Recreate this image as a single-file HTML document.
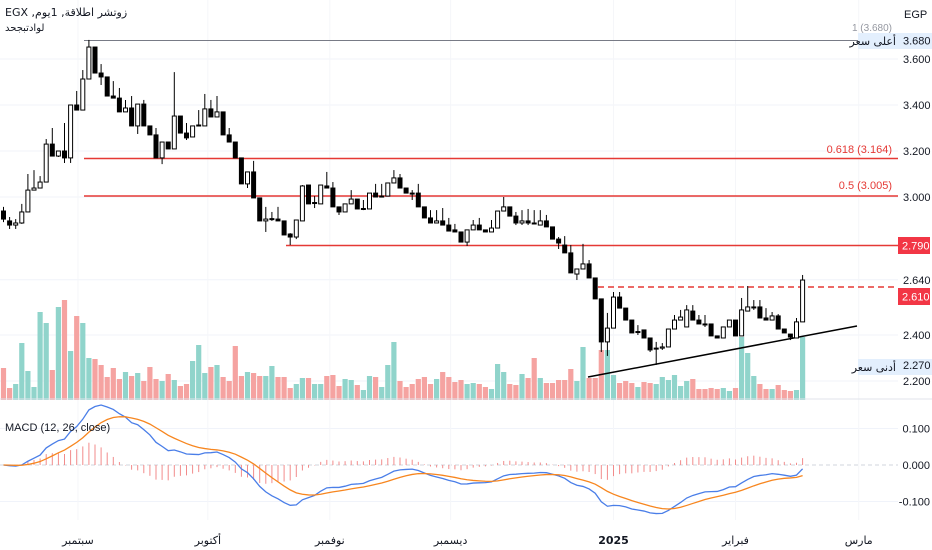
<!DOCTYPE html>
<html><head><meta charset="utf-8">
<style>
html,body{margin:0;padding:0;background:#fff;}
svg{display:block;font-family:"Liberation Sans","DejaVu Sans",sans-serif;}
.ax{font-size:11px;fill:#131722;}
</style></head>
<body>
<svg id="chart" width="932" height="550" viewBox="0 0 932 550" xmlns="http://www.w3.org/2000/svg">
  <rect x="0" y="0" width="932" height="550" fill="#fff"/>
  <g id="grid"></g>
  <g id="volume"></g>
  <g id="levels">
    <line x1="84" y1="40.5" x2="858" y2="40.5" stroke="#787b86" stroke-width="1"/>
    <text x="892" y="31" text-anchor="end" font-size="10" fill="#9598a1">1 (3.680)</text>
    <line x1="84" y1="158.5" x2="898" y2="158.5" stroke="#e53935" stroke-width="1.5"/>
    <text x="892" y="153" text-anchor="end" font-size="11" fill="#e53935">0.618 (3.164)</text>
    <line x1="84" y1="196" x2="898" y2="196" stroke="#e53935" stroke-width="1.5"/>
    <text x="892" y="189" text-anchor="end" font-size="11" fill="#e53935">0.5 (3.005)</text>
    <line x1="286" y1="245.5" x2="898" y2="245.5" stroke="#e53935" stroke-width="1.5"/>
    <line x1="598" y1="287" x2="898" y2="287" stroke="#e53935" stroke-width="1.5" stroke-dasharray="6,4"/>
    <line x1="588" y1="377" x2="857" y2="326" stroke="#000" stroke-width="1.5"/>
  </g>
  <g id="candles"></g>
  <line x1="0" y1="399" x2="932" y2="399" stroke="#e0e3eb" stroke-width="1"/>
  <g id="macd"></g>
  <text x="5" y="431" font-size="11" fill="#131722">MACD (12, 26, close)</text>
  <text x="5" y="16" font-size="11" fill="#131722" font-family="DejaVu Sans, sans-serif">EGX ,زوتشر اطلاقة, 1يوم</text>
  <text x="5" y="31" font-size="10" fill="#131722" font-family="DejaVu Sans, sans-serif">لوادتبجحد</text>
  <g id="axis">
    <text x="904" y="18" class="ax">EGP</text>
    <rect x="858" y="33" width="74" height="16" fill="#e3effd"/>
    <text x="896" y="45" text-anchor="end" font-size="11" fill="#131722" font-family="DejaVu Sans, sans-serif">أعلى سعر</text>
    <rect x="858" y="359" width="74" height="16" fill="#e3effd"/>
    <text x="896" y="371" text-anchor="end" font-size="11" fill="#131722" font-family="DejaVu Sans, sans-serif">أدنى سعر</text>
    <rect x="898" y="237" width="32" height="17" fill="#f23645"/>
    <text x="902" y="249.5" font-size="11" fill="#fff">2.790</text>
    <rect x="898" y="288" width="32" height="17" fill="#f23645"/>
    <text x="902" y="300.5" font-size="11" fill="#fff">2.610</text>
  </g>
  <g id="xaxis"></g>
</svg>
<script>
const opens=[2.939,2.896,2.878,2.887,2.935,3.030,3.039,3.065,3.230,3.178,
3.200,3.170,3.400,3.378,3.513,3.652,3.539,3.522,3.439,3.430,
3.370,3.387,3.309,3.404,3.309,3.270,3.170,3.239,3.209,3.352,
3.278,3.261,3.309,3.309,3.383,3.348,3.370,3.270,3.239,3.170,
3.057,3.109,2.996,2.896,2.904,2.904,2.896,2.839,2.826,2.896,
3.052,2.974,2.970,3.048,3.039,2.957,2.935,2.970,2.991,2.948,
2.948,3.017,3.000,3.004,3.061,3.083,3.039,3.017,3.017,2.957,
2.909,2.887,2.896,2.878,2.857,2.848,2.804,2.857,2.878,2.857,
2.848,2.865,2.939,2.957,2.917,2.887,2.896,2.887,2.878,2.896,
2.870,2.817,2.791,2.757,2.665,2.687,2.709,2.648,2.557,2.370,
2.430,2.565,2.517,2.465,2.413,2.422,2.387,2.343,2.343,2.348,
2.426,2.465,2.435,2.504,2.465,2.448,2.448,2.396,2.387,2.435,
2.465,2.396,2.504,2.522,2.522,2.474,2.465,2.483,2.426,2.404,
2.387,2.457];
const closes=[2.904,2.878,2.887,2.935,3.030,3.039,3.065,3.230,3.178,3.200,
3.170,3.400,3.378,3.513,3.652,3.539,3.522,3.439,3.430,3.370,
3.387,3.309,3.404,3.309,3.270,3.170,3.239,3.209,3.352,3.278,
3.257,3.309,3.313,3.383,3.348,3.370,3.270,3.239,3.170,3.057,
3.109,2.996,2.896,2.904,2.906,2.896,2.835,2.826,2.900,3.048,
2.970,2.976,3.052,3.039,2.957,2.935,2.970,2.991,2.948,2.950,
3.017,3.000,3.004,3.061,3.083,3.039,3.017,3.015,2.957,2.909,
2.887,2.896,2.878,2.852,2.848,2.804,2.857,2.878,2.857,2.848,
2.865,2.939,2.957,2.917,2.887,2.896,2.887,2.883,2.896,2.870,
2.817,2.800,2.757,2.670,2.687,2.709,2.648,2.557,2.370,2.430,
2.565,2.517,2.465,2.409,2.415,2.387,2.335,2.343,2.348,2.426,
2.465,2.478,2.509,2.465,2.448,2.447,2.396,2.387,2.435,2.465,
2.396,2.509,2.522,2.522,2.474,2.465,2.483,2.426,2.409,2.391,
2.457,2.639];
const highs=[2.957,2.913,2.904,2.970,3.100,3.117,3.091,3.252,3.300,3.200,
3.322,3.400,3.461,3.552,3.683,3.652,3.578,3.522,3.504,3.474,
3.422,3.439,3.404,3.422,3.309,3.300,3.239,3.239,3.543,3.352,
3.322,3.309,3.378,3.448,3.422,3.439,3.370,3.300,3.239,3.170,
3.109,3.157,2.996,2.957,2.935,2.957,2.896,2.843,2.900,3.052,
3.052,3.004,3.052,3.109,3.065,2.957,2.970,3.030,2.991,2.987,
3.017,3.057,3.057,3.061,3.117,3.100,3.039,3.030,3.057,2.957,
2.943,2.943,2.952,2.909,2.883,2.848,2.857,2.900,2.909,2.857,
2.900,2.939,3.000,2.957,2.935,2.943,2.948,2.943,2.943,2.922,
2.870,2.826,2.830,2.791,2.687,2.796,2.726,2.648,2.557,2.496,
2.587,2.587,2.517,2.465,2.443,2.422,2.387,2.370,2.365,2.426,
2.487,2.509,2.530,2.530,2.487,2.487,2.448,2.396,2.435,2.465,
2.465,2.561,2.613,2.552,2.552,2.517,2.500,2.491,2.426,2.404,
2.474,2.661];
const lows=[2.891,2.861,2.861,2.883,2.935,3.030,3.039,3.065,3.178,3.174,
3.148,3.148,3.378,3.378,3.513,3.539,3.487,3.439,3.430,3.370,
3.370,3.309,3.274,3.309,3.270,3.170,3.143,3.209,3.209,3.278,
3.248,3.261,3.309,3.309,3.348,3.348,3.270,3.239,3.170,3.057,
3.039,2.996,2.896,2.848,2.896,2.896,2.835,2.791,2.817,2.896,
2.970,2.952,2.970,3.039,2.957,2.922,2.935,2.970,2.948,2.943,
2.948,3.000,3.000,3.004,3.061,3.039,3.017,2.987,2.957,2.909,
2.887,2.887,2.878,2.852,2.848,2.804,2.787,2.857,2.857,2.848,
2.848,2.865,2.939,2.917,2.878,2.878,2.878,2.883,2.878,2.870,
2.817,2.774,2.757,2.670,2.639,2.687,2.648,2.557,2.326,2.309,
2.430,2.517,2.465,2.409,2.400,2.387,2.326,2.270,2.335,2.348,
2.426,2.465,2.435,2.465,2.448,2.435,2.396,2.387,2.387,2.435,
2.396,2.396,2.504,2.509,2.474,2.465,2.465,2.426,2.409,2.378,
2.387,2.457];
const volumes=[32,12,16,57,29,13,88,77,30,93,
100,49,84,77,42,41,35,23,32,21,
28,24,27,19,33,21,19,26,20,14,
16,39,55,27,33,35,23,19,54,24,
28,27,24,24,34,23,23,12,16,22,
22,16,16,24,25,14,21,20,15,10,
24,23,13,35,58,19,13,16,21,23,
16,21,28,23,18,20,16,17,16,13,
11,36,28,16,15,26,22,42,22,17,
17,20,20,31,19,53,22,22,50,50,
25,17,19,17,13,18,17,16,23,20,
25,14,19,21,11,11,12,11,12,9,
12,63,47,24,16,11,11,15,10,9,
10,63];
const priceTicks=[3.6,3.4,3.2,3.0,2.64,2.4,2.2];
const priceTickLabels=["3.600","3.400","3.200","3.000","2.640","2.400","2.200"];
const extraPriceLabels=[3.68,2.27];
const extraPriceLabelText=["3.680","2.270"];
const macdTicks=[0.1,0,-0.1];
const macdTickLabels=["0.100","0.000","-0.100"];
const monthPos=[12.2,33.5,53.5,73.3,100,120,140.2];
const monthLabels=["سبتمبر","أكتوبر","نوفمبر","ديسمبر","2025","فبراير","مارس"];

const NS="http://www.w3.org/2000/svg";
const xOf=i=>3.5+6.1*i;
const yP=p=>59+(3.6-p)*230;
const yV=v=>400-v;
const yM=v=>465-v*365;
function mk(tag,attrs,parent){const e=document.createElementNS(NS,tag);for(const k in attrs)e.setAttribute(k,attrs[k]);parent.appendChild(e);return e;}

const grid=document.getElementById('grid');
priceTicks.forEach(p=>{
  const l=mk('line',{x1:0,x2:898,y1:yP(p),y2:yP(p),stroke:'#f0f3fa','stroke-width':1},grid);
  
  
});
macdTicks.forEach(v=>{
  const l=mk('line',{x1:0,x2:898,y1:yM(v),y2:yM(v),stroke:v===0?'#d1d4dc':'#f0f3fa','stroke-width':1,'stroke-dasharray':v===0?'4,3':'none'},grid);
  
  
});
monthPos.forEach(m=>{
  const l=mk('line',{x1:xOf(m),x2:xOf(m),y1:0,y2:520,stroke:'#f5f6f9','stroke-width':1},grid);
  
  
});

const vol=document.getElementById('volume');
volumes.forEach((v,i)=>{
  const up=closes[i]>=opens[i];
  const r=mk('rect',{x:xOf(i)-2.6,y:yV(v),width:5.2,height:v,fill:up?'#90d4cb':'#f5a3a1'},vol);
  
  
});

const cg=document.getElementById('candles');
opens.forEach((o,i)=>{
  const c=closes[i],x=xOf(i),up=c>=o;
  const g=mk('g',{},cg);
  
  
  mk('line',{x1:x,x2:x,y1:yP(highs[i]),y2:yP(lows[i]),stroke:'#000','stroke-width':1},g);
  const top=yP(Math.max(o,c)),bot=yP(Math.min(o,c));
  mk('rect',{x:x-2,y:top,width:4,height:Math.max(1,bot-top),fill:up?'#fff':'#000',stroke:'#000','stroke-width':1},g);
});

function ema(arr,n){const k=2/(n+1);const out=[];let e=arr[0];arr.forEach((v,i)=>{e=i===0?v:v*k+e*(1-k);out.push(e);});return out;}
const e12=ema(closes,12),e26=ema(closes,26);
const macdLine=e12.map((v,i)=>v-e26[i]);
const signal=ema(macdLine,9);
const mg=document.getElementById('macd');
macdLine.forEach((m,i)=>{
  const h=m-signal[i];
  const l=mk('line',{x1:xOf(i),x2:xOf(i),y1:yM(0),y2:yM(h),stroke:'#f28b8b','stroke-width':1},mg);
  
  
});
const ml=mk('polyline',{points:macdLine.map((v,i)=>xOf(i)+','+yM(v)).join(' '),fill:'none',stroke:'#4a7ee8','stroke-width':1.3},mg);


const sl=mk('polyline',{points:signal.map((v,i)=>xOf(i)+','+yM(v)).join(' '),fill:'none',stroke:'#f7861f','stroke-width':1.3},mg);



const ax=document.getElementById('axis');
priceTicks.forEach((p,i)=>{
  const t=mk('text',{x:903,y:yP(p)+4,class:'ax'},ax);
  t.textContent=priceTickLabels[i];
  
  
});
extraPriceLabels.forEach((p,i)=>{
  const t=mk('text',{x:903,y:yP(p)+4,class:'ax'},ax);
  t.textContent=extraPriceLabelText[i];
  
  
});
macdTicks.forEach((v,i)=>{
  const t=mk('text',{x:930,y:yM(v)+4,class:'ax','text-anchor':'end'},ax);
  t.textContent=macdTickLabels[i];
  
  
});
const xa=document.getElementById('xaxis');
monthPos.forEach((m,i)=>{
  const t=mk('text',{x:xOf(m),y:544,'text-anchor':'middle','font-size':11,fill:'#131722','font-family':'DejaVu Sans, Liberation Sans, sans-serif','font-weight':monthLabels[i]==='2025'?'bold':'normal'},xa);
  t.textContent=monthLabels[i];
  
  
});
</script>
</body></html>
